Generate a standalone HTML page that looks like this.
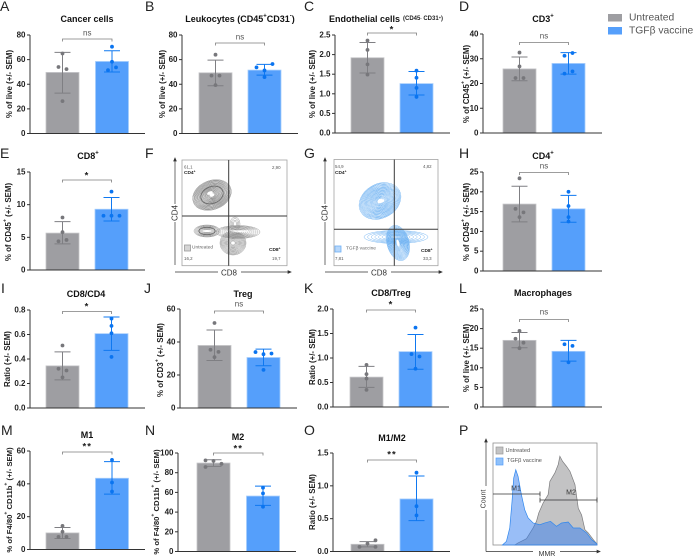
<!DOCTYPE html>
<html lang="en">
<head>
<meta charset="utf-8">
<title>TGFβ vaccine immune profiling figure</title>
<style>
html,body{margin:0;padding:0;background:#fff;}
svg{display:block;}
text{font-family:"Liberation Sans",Arial,sans-serif;}
</style>
</head>
<body>
<svg id="figure" xmlns="http://www.w3.org/2000/svg" width="694" height="558" viewBox="0 0 694 558"></svg>
<script>
// ---------- chart data ----------
const categories = ['Untreated', 'TGFβ vaccine'];

const A_ticks = [0, 20, 40, 60, 80];
const A_means = [49.6, 58.5];
const A_low = [32.8, 50];
const A_high = [65.9, 67.2];
const A_untreated = [65, 54, 52.3, 26.3];
const A_vaccine = [70.5, 58.3, 51.5, 53.7];

const B_ticks = [0, 20, 40, 60, 80];
const B_means = [49.3, 51.5];
const B_low = [38.8, 47.4];
const B_high = [59.6, 56.1];
const B_untreated = [64, 47, 47, 39.3];
const B_vaccine = [53.7, 51.2, 56.4, 45.8];

const C_ticks = [0, 0.5, 1, 1.5, 2, 2.5];
const C_means = [1.92, 1.26];
const C_low = [1.53, 0.97];
const C_high = [2.31, 1.57];
const C_untreated = [2.36, 2.12, 1.75, 1.49];
const C_vaccine = [1.59, 1.41, 1.15, 0.92];

const D_ticks = [0, 10, 20, 30, 40];
const D_means = [25.9, 28.1];
const D_low = [21.1, 23.8];
const D_high = [30.7, 32.5];
const D_untreated = [32.5, 26.9, 22.2, 22.2];
const D_vaccine = [31.2, 32.3, 24, 24.9];

const E_ticks = [0, 5, 10, 15];
const E_means = [5.65, 9.3];
const E_low = [4, 7.5];
const E_high = [7.4, 11.1];
const E_untreated = [8.03, 5.8, 4.4, 4.6];
const E_vaccine = [12, 8.3, 8.3, 8.3];

const H_ticks = [0, 5, 10, 15, 20, 25];
const H_means = [16.9, 15.7];
const H_low = [12.4, 12.3];
const H_high = [21.4, 19.1];
const H_untreated = [23.4, 15.7, 14.8, 13.6];
const H_vaccine = [20, 16.4, 13.6, 12.5];

const I_ticks = [0, 0.2, 0.4, 0.6, 0.8];
const I_means = [0.344, 0.607];
const I_low = [0.23, 0.47];
const I_high = [0.458, 0.743];
const I_untreated = [0.51, 0.32, 0.306, 0.25];
const I_vaccine = [0.73, 0.67, 0.61, 0.417];

const J_ticks = [0, 20, 40, 60];
const J_means = [37.9, 30.6];
const J_low = [28.8, 25.6];
const J_high = [47.3, 35.7];
const J_untreated = [51.5, 35.3, 34, 30.8];
const J_vaccine = [33.9, 32.6, 33, 23.1];

const K_ticks = [0, 0.5, 1, 1.5, 2];
const K_means = [0.61, 1.13];
const K_low = [0.4, 0.77];
const K_high = [0.83, 1.48];
const K_untreated = [0.86, 0.67, 0.58, 0.35];
const K_vaccine = [1.62, 1.08, 1.03, 0.78];

const L_ticks = [0, 5, 10, 15, 20, 25];
const L_means = [17, 14.2];
const L_low = [15.1, 11.7];
const L_high = [19, 17];
const L_untreated = [19.4, 17.4, 16.4, 15];
const L_vaccine = [16, 15.6, 11.4];

const M_ticks = [0, 20, 40, 60];
const M_means = [10.1, 43.4];
const M_low = [6.7, 33.7];
const M_high = [13.4, 53.5];
const M_untreated = [14.4, 10.8, 7.7, 7.7];
const M_vaccine = [54.6, 40.8, 35.3];

const N_ticks = [0, 20, 40, 60, 80, 100];
const N_means = [89.8, 56.3];
const N_low = [86.4, 46.8];
const N_high = [93.2, 66.4];
const N_untreated = [89, 92, 92.5, 85.8];
const N_vaccine = [64.7, 59, 45.4];

const O_ticks = [0, 0.5, 1, 1.5];
const O_means = [0.11, 0.8];
const O_low = [0.07, 0.47];
const O_high = [0.15, 1.15];
const O_untreated = [0.07, 0.12, 0.07, 0.17];
const O_vaccine = [1.2, 0.69, 0.55];

const histGrayMMR = [20.9, 24.1, 32.2, 38.6, 41.8, 44, 48.2, 53, 54.7, 59.5, 62.7, 64.3, 66.9, 70.7, 74, 78.8, 82, 85.2, 88.4, 91.6, 96.5, 100];
const histGrayCount = [0, 2, 6.2, 16.7, 23.2, 31.4, 41.2, 49.3, 62.4, 70.6, 78.8, 87, 82, 77.1, 72.2, 59.2, 36, 29.4, 15, 11.8, 5.2, 1];
const histBlueMMR = [9, 12.9, 16.1, 18.3, 19.9, 21.9, 24.1, 27.3, 30.5, 33.8, 38.6, 45, 49.8, 55.3, 61.1, 65.9, 72.3, 77.2, 83.6, 90, 94.9, 100];
const histBlueCount = [0, 3.6, 16.7, 42.8, 65.6, 73.8, 67.3, 49.3, 34.6, 26.5, 21.6, 19.9, 21.6, 23.2, 18.3, 21.6, 22.5, 16.7, 16.7, 11.8, 5.2, 1];

// ---------- helpers ----------
const NS = 'http://www.w3.org/2000/svg';
const root = document.getElementById('figure');
const COLORS = {
  barFill: ['#9e9ea2', '#559ffb'],
  barEdge: ['#c6c6c9', '#a6cdfc'],
  err: ['#7f7f83', '#0f78f0'],
  dot: ['#77777b', '#0a74f0']
};

function make(tag, parent, attrs, txt) {
  const n = document.createElementNS(NS, tag);
  for (const k in attrs) n.setAttribute(k, attrs[k]);
  if (txt !== undefined) n.textContent = txt;
  parent.appendChild(n);
  return n;
}

function rich(textEl, str, baseSize) {
  const parts = str.split(/(\^.)/).filter(s => s.length);
  let wasSup = false;
  const lift = baseSize * 0.3;
  parts.forEach(p => {
    const sup = p[0] === '^';
    const a = {};
    if (sup) { a['font-size'] = baseSize * 0.66; a['dy'] = wasSup ? 0 : -lift; }
    else if (wasSup) { a['dy'] = lift; }
    make('tspan', textEl, a, sup ? p.slice(1) : p);
    wasSup = sup;
  });
}

function jitter(values, scale, mirror) {
  const groups = [];
  const where = [];
  values.forEach((v, i) => {
    let g = groups.find(gr => gr.some(j => Math.abs(scale(values[j]) - scale(v)) < 4));
    if (!g) { g = []; groups.push(g); }
    where[i] = { group: g, pos: g.length };
    g.push(i);
  });
  return values.map((v, i) => {
    const n = where[i].group.length;
    const p = where[i].pos;
    let off = 0;
    if (n === 2) off = p === 0 ? -4 : 4;
    else if (n === 3) off = [-8, 0, 8][p];
    else if (n >= 4) off = [-8, 0, 8, 8][p % 4];
    return off * (mirror ? -1 : 1);
  });
}

function drawBarPanel(p) {
  const g = make('g', root, {});
  
  

  const yMax = p.ticks[p.ticks.length - 1];
  const yScale = v => p.y0 - (v / yMax) * (p.y0 - p.top);
  const barLeft = p.bars;
  const barW = 33;
  const seriesDots = [p.untreated, p.vaccine];

  // panel letter
  const letter = make('text', g, { x: p.lx, y: p.ly, 'font-size': 14, fill: '#222', 'dominant-baseline': 'central' }, p.id);
  
  

  // title
  const title = make('text', g, { x: p.titleX, y: p.titleY, 'font-size': 9, 'font-weight': 'bold', fill: '#111', 'text-anchor': p.titleAnchor || 'middle', 'dominant-baseline': 'central' });
  
  
  rich(title, p.title, 9);
  if (p.titleSmall) {
    const small = make('text', g, { x: p.titleSmallX, y: p.titleY, 'font-size': 6, 'font-weight': 'bold', fill: '#222', 'dominant-baseline': 'central' });
    
    
    rich(small, p.titleSmall, 6);
  }

  // y title
  const yt = make('text', g, { x: p.ytX, y: p.ytY, 'font-size': p.ytSize || 7.9, 'font-weight': 'bold', fill: '#222', 'text-anchor': 'middle', 'dominant-baseline': 'central', transform: 'rotate(-90 ' + p.ytX + ' ' + p.ytY + ')' });
  
  
  rich(yt, p.yTitle, p.ytSize || 7.9);

  // bars
  categories.forEach((c, i) => {
    const h = p.y0 - yScale(p.means[i]);
    const r = make('rect', g, { x: barLeft[i], y: yScale(p.means[i]), width: barW, height: h, fill: COLORS.barFill[i], stroke: COLORS.barEdge[i], 'stroke-width': 0.8 });
    
    
  });

  // error bars and dots
  categories.forEach((c, i) => {
    const cx = barLeft[i] + barW / 2;
    const stroke = { stroke: COLORS.err[i], 'stroke-width': 1 };
    const eb = make('path', g, Object.assign({ fill: 'none', d:
      'M' + cx + ' ' + yScale(p.low[i]) + 'V' + yScale(p.high[i]) +
      'M' + (cx - 8) + ' ' + yScale(p.low[i]) + 'H' + (cx + 8) +
      'M' + (cx - 8) + ' ' + yScale(p.high[i]) + 'H' + (cx + 8) }, stroke));
    
    

    const offs = jitter(seriesDots[i], yScale, p.mirror && i === 0);
    seriesDots[i].forEach((v, k) => {
      const d = make('circle', g, { cx: cx + offs[k], cy: yScale(v), r: 1.9, fill: COLORS.dot[i] });
      
      
    });
  });

  // axes
  const yAxis = make('line', g, { x1: p.axisX, x2: p.axisX, y1: p.top, y2: p.y0, stroke: '#333', 'stroke-width': 1 });
  
  
  const xAxis = make('line', g, { x1: p.axisX - 3, x2: p.xEnd, y1: p.y0, y2: p.y0, stroke: '#333', 'stroke-width': 1 });
  
  

  p.ticks.forEach(t => {
    const ty = yScale(t);
    const tk = make('line', g, { x1: p.axisX - 3, x2: p.axisX, y1: ty, y2: ty, stroke: '#333', 'stroke-width': 1 });
    
    
    const tl = make('text', g, { x: p.axisX - 4.5, y: ty, 'font-size': 8, 'font-weight': 'bold', fill: '#222', 'text-anchor': 'end', 'dominant-baseline': 'central' }, t.toFixed(p.decimals || 0));
    
    
  });

  // significance bracket
  const bx1 = barLeft[0] + barW / 2;
  const bx2 = barLeft[1] + barW / 2;
  const br = make('path', g, { d: 'M' + bx1 + ' ' + (p.brY + 2.5) + 'V' + p.brY + 'H' + bx2 + 'V' + (p.brY + 2.5), fill: 'none', stroke: '#7d7d7d', 'stroke-width': 0.8 });
  
  
  const isNs = p.sig === 'ns';
  const sg = make('text', g, { x: (bx1 + bx2) / 2, y: p.sigY, 'font-size': isNs ? 8 : 9.5, 'font-weight': isNs ? 'normal' : 'bold', fill: isNs ? '#555' : '#222', 'text-anchor': 'middle', 'dominant-baseline': 'central', 'letter-spacing': isNs ? 0 : 1 }, p.sig);
  
  
}

const Y_LIVE = '% of live (+/- SEM)';
const Y_45 = '% of CD45^+ (+/- SEM)';
const Y_RATIO = 'Ratio (+/- SEM)';
const Y_F480 = '% of F4/80^+ CD11b^+ (+/- SEM)';

drawBarPanel({ id: 'A', lx: 0, ly: 6, title: 'Cancer cells', titleX: 87, titleY: 19, yTitle: Y_LIVE, ytX: 9, ytY: 84, axisX: 30, top: 35, y0: 133.5, xEnd: 145, bars: [46, 95.5], brY: 39, sig: 'ns', sigY: 33, ticks: A_ticks, means: A_means, low: A_low, high: A_high, untreated: A_untreated, vaccine: A_vaccine });
drawBarPanel({ id: 'B', lx: 145, ly: 6, title: 'Leukocytes (CD45^+CD31^-)', titleX: 240, titleY: 19, yTitle: Y_LIVE, ytX: 162, ytY: 84, axisX: 182, top: 35, y0: 133.5, xEnd: 298, bars: [199, 248], brY: 43, sig: 'ns', sigY: 37, ticks: B_ticks, means: B_means, low: B_low, high: B_high, untreated: B_untreated, vaccine: B_vaccine });
drawBarPanel({ id: 'C', lx: 304, ly: 6, title: 'Endothelial cells', titleAnchor: 'start', titleX: 329, titleY: 19, titleSmall: '(CD45^- CD31^+)', titleSmallX: 403, yTitle: Y_LIVE, ytX: 312, ytY: 84, axisX: 335, top: 35, y0: 133, xEnd: 450, bars: [351, 400], brY: 33, sig: '*', sigY: 30, decimals: 1, ticks: C_ticks, means: C_means, low: C_low, high: C_high, untreated: C_untreated, vaccine: C_vaccine });
drawBarPanel({ id: 'D', lx: 459, ly: 6, title: 'CD3^+', titleX: 543, titleY: 19, yTitle: Y_45, ytX: 466, ytY: 84, axisX: 483, top: 34, y0: 133, xEnd: 602, bars: [503, 552], brY: 42.5, sig: 'ns', sigY: 36, ticks: D_ticks, means: D_means, low: D_low, high: D_high, untreated: D_untreated, vaccine: D_vaccine });

drawBarPanel({ id: 'E', lx: 0, ly: 153, title: 'CD8^+', titleX: 88, titleY: 156, yTitle: Y_45, ytX: 8, ytY: 222, axisX: 30, top: 172, y0: 270, xEnd: 145, bars: [46, 95], brY: 180, sig: '*', sigY: 176, ticks: E_ticks, means: E_means, low: E_low, high: E_high, untreated: E_untreated, vaccine: E_vaccine });
drawBarPanel({ id: 'H', lx: 459, ly: 153, title: 'CD4^+', titleX: 543, titleY: 156, yTitle: Y_45, ytX: 466, ytY: 222, axisX: 483, top: 172, y0: 271, xEnd: 602, bars: [503, 552], brY: 172.5, sig: 'ns', sigY: 166, ticks: H_ticks, means: H_means, low: H_low, high: H_high, untreated: H_untreated, vaccine: H_vaccine });

drawBarPanel({ id: 'I', lx: 1, ly: 288, title: 'CD8/CD4', titleX: 86, titleY: 294, yTitle: Y_RATIO, ytX: 7, ytY: 359, axisX: 30, top: 310, y0: 408, xEnd: 145, bars: [46, 95], brY: 311.5, sig: '*', sigY: 307, decimals: 1, ticks: I_ticks, means: I_means, low: I_low, high: I_high, untreated: I_untreated, vaccine: I_vaccine });
drawBarPanel({ id: 'J', lx: 144, ly: 288, title: 'Treg', titleX: 243, titleY: 294, yTitle: '% of CD3^+ (+/- SEM)', ytX: 160, ytY: 360, axisX: 180, top: 309, y0: 408, xEnd: 297, bars: [198, 247], brY: 311, sig: 'ns', sigY: 304, ticks: J_ticks, means: J_means, low: J_low, high: J_high, untreated: J_untreated, vaccine: J_vaccine });
drawBarPanel({ id: 'K', lx: 304, ly: 288, title: 'CD8/Treg', titleX: 391, titleY: 293, yTitle: Y_RATIO, ytX: 312, ytY: 357, axisX: 333, top: 309, y0: 407, xEnd: 449, bars: [350, 399], brY: 310, sig: '*', sigY: 305, decimals: 1, ticks: K_ticks, means: K_means, low: K_low, high: K_high, untreated: K_untreated, vaccine: K_vaccine });
drawBarPanel({ id: 'L', lx: 459, ly: 288, title: 'Macrophages', titleX: 543, titleY: 293, yTitle: Y_LIVE, ytX: 466, ytY: 358, axisX: 483, top: 309, y0: 407, xEnd: 602, bars: [503, 552], brY: 319.5, sig: 'ns', sigY: 312, ticks: L_ticks, means: L_means, low: L_low, high: L_high, untreated: L_untreated, vaccine: L_vaccine });

drawBarPanel({ id: 'M', lx: 1, ly: 430, title: 'M1', titleX: 87, titleY: 435, yTitle: Y_F480, ytSize: 7.7, ytX: 9, ytY: 500, axisX: 30, top: 451, y0: 549.5, xEnd: 145, bars: [46, 95.5], brY: 452, sig: '**', sigY: 447, ticks: M_ticks, means: M_means, low: M_low, high: M_high, untreated: M_untreated, vaccine: M_vaccine });
drawBarPanel({ id: 'N', lx: 145, ly: 430, title: 'M2', titleX: 238, titleY: 437, yTitle: Y_F480, ytSize: 7.7, ytX: 156, ytY: 502, axisX: 178, top: 453, y0: 551.5, xEnd: 296, bars: [197, 246.5], brY: 453, sig: '**', sigY: 449, mirror: true, ticks: N_ticks, means: N_means, low: N_low, high: N_high, untreated: N_untreated, vaccine: N_vaccine });
drawBarPanel({ id: 'O', lx: 304, ly: 430, title: 'M1/M2', titleX: 392, titleY: 438, yTitle: Y_RATIO, ytX: 312, ytY: 502, axisX: 333, top: 453, y0: 551.5, xEnd: 450, bars: [351, 400], brY: 460, sig: '**', sigY: 455, decimals: 1, ticks: O_ticks, means: O_means, low: O_low, high: O_high, untreated: O_untreated, vaccine: O_vaccine });

// ---------- legend ----------
(function () {
  const g = make('g', root, {});
  
  
  categories.forEach((c, i) => {
    const yy = i === 0 ? 14 : 27;
    const s = make('rect', g, { x: 608, y: yy, width: 14, height: 7.5, fill: COLORS.barFill[i] });
    
    
    const t = make('text', g, { x: 629, y: yy + 4, 'font-size': 10.3, fill: '#555', 'dominant-baseline': 'central' }, c);
    
    
  });
})();

// ---------- flow cytometry panels ----------
function contour(parent, stroke, cx, cy, rx, ry, rot, n, ringAt, ringColor) {
  for (let i = 0; i < n; i++) {
    const f = 1 - (i / n) * 0.9;
    const e = make('ellipse', parent, { cx: cx, cy: cy, rx: rx * f, ry: ry * f, transform: 'rotate(' + rot + ' ' + cx + ' ' + cy + ')', fill: 'none', stroke: stroke, 'stroke-width': 0.45 });
    
    
  }
  if (ringAt) {
    const r = make('ellipse', parent, { cx: cx, cy: cy, rx: rx * ringAt, ry: ry * ringAt, transform: 'rotate(' + rot + ' ' + cx + ' ' + cy + ')', fill: 'none', stroke: ringColor, 'stroke-width': 0.9 });
    
    
  }
}

function drawFlow(f) {
  const g = make('g', root, {});
  
  
  const l = make('text', g, { x: f.lx, y: 153, 'font-size': 14, fill: '#222', 'dominant-baseline': 'central' }, f.id);
  
  

  const box = make('rect', g, { x: f.x0, y: f.y0, width: f.x1 - f.x0, height: f.y1 - f.y0, fill: '#fff', stroke: '#a3a3a3', 'stroke-width': 0.8 });
  
  

  const cg = make('g', g, {});
  
  
  f.blobs.forEach(b => contour(cg, f.color, b[0], b[1], b[2], b[3], b[4], b[5], b[6], f.ring));
  f.cores.forEach(c => {
    const w = make('ellipse', cg, { cx: c[0], cy: c[1], rx: c[2], ry: c[3], transform: 'rotate(' + c[4] + ' ' + c[0] + ' ' + c[1] + ')', fill: '#fff' });
    
    
  });

  const q = make('path', g, { d: 'M' + f.cx + ' ' + f.y0 + 'V' + f.y1 + 'M' + f.x0 + ' ' + f.cy + 'H' + f.x1, stroke: '#3a3a3a', 'stroke-width': 1, fill: 'none' });
  
  

  const ya = make('path', g, { d: 'M' + f.ax + ' ' + 265 + 'V' + 222 + 'M' + f.ax + ' ' + 204 + 'V' + 160 + 'M' + (f.ax - 1.3) + ' 161L' + f.ax + ' 158L' + (f.ax + 1.3) + ' 161Z', stroke: '#333', 'stroke-width': 0.7, fill: '#333' });
  
  
  const xa = make('path', g, { d: 'M' + f.ax + ' 272H' + (f.xm - 11) + 'M' + (f.xm + 12) + ' 272H' + (f.x1 + 1) + 'M' + (f.x1 + 1) + ' 270.7L' + (f.x1 + 4) + ' 272L' + (f.x1 + 1) + ' 273.3Z', stroke: '#333', 'stroke-width': 0.7, fill: '#333' });
  
  

  const xl = make('text', g, { x: f.xm, y: 273, 'font-size': 8, fill: '#333', 'text-anchor': 'middle', 'dominant-baseline': 'central' }, 'CD8');
  
  
  const yl = make('text', g, { x: f.ax, y: 213, 'font-size': 8, fill: '#333', 'text-anchor': 'middle', 'dominant-baseline': 'central', transform: 'rotate(-90 ' + f.ax + ' 213)' }, 'CD4');
  
  

  f.labels.forEach(t => {
    const e = make('text', g, { x: t[1], y: t[2], 'font-size': t[3] ? 4.8 : 4.4, 'font-weight': t[3] ? 'bold' : 'normal', fill: t[3] ? '#222' : '#555', 'dominant-baseline': 'central' });
    
    
    rich(e, t[0], t[3] ? 4.8 : 4.4);
  });

  const sw = make('rect', g, { x: f.swX, y: f.swY, width: 6, height: 6, fill: f.swFill, stroke: f.swStroke, 'stroke-width': 0.8 });
  
  
  const st = make('text', g, { x: f.swTextX, y: f.swY + 3, 'font-size': 4.8, fill: '#666', 'dominant-baseline': 'central' }, f.swText);
  
  
}

drawFlow({
  id: 'F', lx: 145, x0: 182, x1: 287, y0: 160, y1: 265.7, cx: 228.7, cy: 216, ax: 175, xm: 229,
  color: '#8f8f8f', ring: '#6a6a6a',
  blobs: [
    [212, 195, 20, 14.5, -22, 24, 0.58],
    [238, 232, 22, 6.5, 0, 10, 0],
    [233, 243, 13, 12, 0, 14, 0],
    [235, 224, 5, 7, 0, 4, 0],
    [207, 231, 13, 6, 0, 11, 0.62]
  ],
  cores: [[210, 193, 3, 1.6, -22], [207, 231, 4, 1, 0], [240, 231, 9, 0.8, 0]],
  labels: [['61,1', 184, 166.5, 0], ['CD4^+', 184, 173, 1], ['2,90', 272, 167, 0], ['CD8^+', 269, 250, 1], ['16,2', 184, 258, 0], ['19,7', 272, 258, 0]],
  swX: 184.5, swY: 245, swFill: '#d5d5d5', swStroke: '#999', swText: 'Untreated', swTextX: 192
});
drawFlow({
  id: 'G', lx: 304, x0: 334, x1: 438, y0: 159.5, y1: 265.7, cx: 394.3, cy: 229.3, ax: 325, xm: 379,
  color: '#6fb2f2', ring: '#7fbbf4',
  blobs: [
    [380, 201, 22, 17, -30, 22, 0],
    [396, 237, 32, 6.5, 0, 8, 0],
    [398, 243, 11, 18, -15, 18, 0]
  ],
  cores: [[382, 201, 2.5, 1.6, -30], [398, 243, 1.4, 3.5, -15]],
  labels: [['54,9', 335, 166, 0], ['CD4^+', 335, 173, 1], ['4,82', 423, 166, 0], ['CD8^+', 421, 251, 1], ['33,3', 423, 258, 0], ['7,81', 335, 258, 0]],
  swX: 335, swY: 246, swFill: '#b6d7fb', swStroke: '#6fb0f5', swText: 'TGFβ vaccine', swTextX: 346
});

// ---------- histogram panel P ----------
(function () {
  const box = { x0: 493, x1: 597, y0: 443, y1: 545 };
  const xH = v => box.x0 + (v / 100) * (box.x1 - box.x0);
  const yH = v => box.y1 - (v / 100) * (box.y1 - box.y0);
  const area = (xs, ys) => 'M' + xH(xs[0]) + ' ' + box.y1 + xs.map((x, i) => 'L' + xH(x) + ' ' + yH(ys[i])).join('') + 'L' + xH(xs[xs.length - 1]) + ' ' + box.y1 + 'Z';

  const g = make('g', root, {});
  
  
  const l = make('text', g, { x: 459, y: 430, 'font-size': 14, fill: '#222', 'dominant-baseline': 'central' }, 'P');
  
  

  const fr = make('rect', g, { x: box.x0, y: box.y0, width: box.x1 - box.x0, height: box.y1 - box.y0, fill: '#fff', stroke: '#8f8f8f', 'stroke-width': 0.8 });
  
  

  const ga = make('path', g, { d: area(histGrayMMR, histGrayCount), fill: '#c3c3c4', stroke: '#7c7c7e', 'stroke-width': 0.7 });
  
  
  const ba = make('path', g, { d: area(histBlueMMR, histBlueCount), fill: 'rgba(60,130,240,0.52)', stroke: '#2f87ee', 'stroke-width': 0.7 });
  
  

  const m1 = make('path', g, { d: 'M493 494H540M540 491.5V496.5', stroke: '#333', 'stroke-width': 0.8, fill: 'none' });
  
  
  const m2 = make('path', g, { d: 'M540 497.5V502.5M540 500H597M597 497.5V502.5', stroke: '#333', 'stroke-width': 0.8, fill: 'none' });
  
  
  const t1 = make('text', g, { x: 516, y: 489, 'font-size': 7, fill: '#333', 'text-anchor': 'middle', 'dominant-baseline': 'central' }, 'M1');
  
  
  const t2 = make('text', g, { x: 571, y: 493, 'font-size': 7, fill: '#333', 'text-anchor': 'middle', 'dominant-baseline': 'central' }, 'M2');
  
  

  const ya = make('path', g, { d: 'M486 551.5V510M486 486V441M484.7 442L486 439L487.3 442Z', stroke: '#333', 'stroke-width': 0.7, fill: '#333' });
  
  
  const xa = make('path', g, { d: 'M486 551.5H533M560 551.5H597M597 550.2L600 551.5L597 552.8Z', stroke: '#333', 'stroke-width': 0.7, fill: '#333' });
  
  
  const xl = make('text', g, { x: 547, y: 554.5, 'font-size': 7, fill: '#333', 'text-anchor': 'middle', 'dominant-baseline': 'central' }, 'MMR');
  
  
  const yl = make('text', g, { x: 484, y: 499, 'font-size': 7, fill: '#333', 'text-anchor': 'middle', 'dominant-baseline': 'central', transform: 'rotate(-90 484 499)' }, 'Count');
  
  

  const s1 = make('rect', g, { x: 496, y: 447, width: 7, height: 7, fill: '#c3c3c4', stroke: '#999', 'stroke-width': 0.7 });
  
  
  const s2 = make('rect', g, { x: 496, y: 458, width: 7, height: 7, fill: '#8ec0fa', stroke: '#559ffb', 'stroke-width': 0.7 });
  
  
  const lt1 = make('text', g, { x: 505.5, y: 451, 'font-size': 5.6, fill: '#555', 'dominant-baseline': 'central' }, categories[0]);
  
  
  const lt2 = make('text', g, { x: 507, y: 461, 'font-size': 5.6, fill: '#555', 'dominant-baseline': 'central' }, categories[1]);
  
  
})();
</script>
</body>
</html>
